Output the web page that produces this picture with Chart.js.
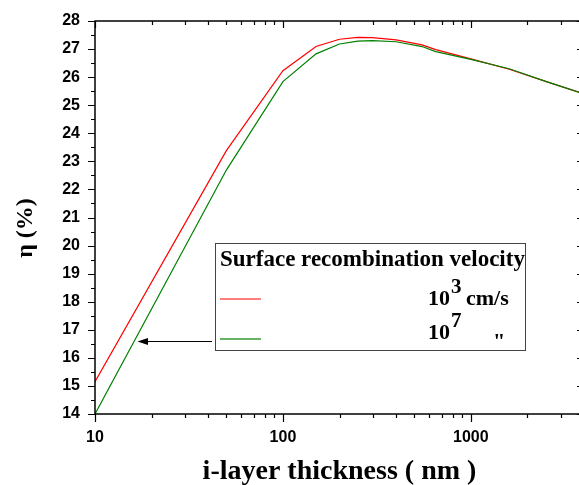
<!DOCTYPE html>
<html>
<head>
<meta charset="utf-8">
<script src="https://cdn.jsdelivr.net/npm/chart.js@4.4.0/dist/chart.umd.min.js"></script>
<style>
html, body { margin: 0; padding: 0; background: #fff; overflow: hidden; }
#wrap { width: 590px; height: 485px; position: relative; }
</style>
</head>
<body>
<div id="wrap"><canvas id="chart"></canvas></div>
<script>
// i-layer thickness (nm)
const thickness = [10, 50, 100, 150, 200, 250, 300, 400, 550, 650, 1000, 1600, 2500, 4000];
// efficiency (%) for surface recombination velocity 1e3 cm/s
const etaS3 = [15.15, 23.38, 26.23, 27.09, 27.35, 27.42, 27.41, 27.33, 27.15, 26.98, 26.65, 26.28, 25.85, 25.40];
// efficiency (%) for 1e7 cm/s
const etaS7 = [14.0, 22.69, 25.84, 26.83, 27.18, 27.28, 27.30, 27.26, 27.09, 26.91, 26.63, 26.30, 25.85, 25.40];
const xTickLabels = [10, 100, 1000];
const yMin = 14, yMax = 28;

const tickFont = { family: '"Liberation Sans", Arial, sans-serif', weight: 'bold', size: 16 };

function points(ys) {
    return thickness.map(function (t, i) { return { x: t, y: ys[i] }; });
}

/* frame, ticks, legend box, arrow, y title */
const extras = {
    id: 'extras',
    afterDraw(chart) {
        const ctx = chart.ctx;
        const a = chart.chartArea;
        const xs = chart.scales.x, ys = chart.scales.y;
        ctx.save();
        ctx.strokeStyle = '#000';
        ctx.lineWidth = 1.5;
        ctx.strokeRect(a.left, a.top, a.right - a.left, a.bottom - a.top);

        ctx.lineWidth = 1.2;
        ctx.beginPath();
        for (let v = yMin; v <= yMax; v += 0.5) {
            const py = Math.round(ys.getPixelForValue(v)) + 0.5;
            const len = (v % 1 === 0) ? 7 : 4;
            ctx.moveTo(a.left - len, py); ctx.lineTo(a.left, py);
            ctx.moveTo(a.right, py); ctx.lineTo(a.right - len, py);
        }
        xTickLabels.forEach(function (d) {
            for (let m = 1; m <= 9; m++) {
                const v = m * d;
                if (v > xs.max) break;
                const px = Math.round(xs.getPixelForValue(v)) + 0.5;
                const major = m === 1;
                ctx.moveTo(px, a.bottom); ctx.lineTo(px, a.bottom + (major ? 8 : 4));
                ctx.moveTo(px, a.top); ctx.lineTo(px, a.top + (major ? 7 : 4));
            }
        });
        ctx.stroke();

        // y axis title
        ctx.fillStyle = '#000';
        ctx.font = 'bold 24px "Liberation Serif"';
        ctx.textAlign = 'center';
        ctx.textBaseline = 'middle';
        ctx.save();
        ctx.translate(26, 228);
        ctx.rotate(-Math.PI / 2);
        ctx.fillText('η (%)', 0, 0);
        ctx.restore();

        // legend box
        ctx.fillStyle = '#fff';
        ctx.fillRect(215.5, 243.5, 310, 107);
        ctx.strokeStyle = '#444';
        ctx.lineWidth = 1;
        ctx.strokeRect(215.5, 243.5, 310, 107);
        ctx.fillStyle = '#000';
        ctx.textAlign = 'left';
        ctx.textBaseline = 'alphabetic';
        ctx.font = 'bold 23px "Liberation Serif"';
        ctx.fillText('Surface recombination velocity', 220, 266);

        ctx.strokeStyle = '#ff0000';
        ctx.lineWidth = 1.2;
        ctx.beginPath(); ctx.moveTo(220, 299); ctx.lineTo(261, 299); ctx.stroke();
        ctx.strokeStyle = 'rgba(0,128,0,0.6)';
        ctx.lineWidth = 2;
        ctx.beginPath(); ctx.moveTo(220, 339); ctx.lineTo(261, 339); ctx.stroke();

        ctx.font = 'bold 22px "Liberation Serif"';
        ctx.fillText('10', 428, 304.5);
        ctx.fillText('cm/s', 466, 304.5);
        ctx.fillText('10', 428, 339);
        ctx.fillText('"', 493, 348);
        ctx.font = 'bold 21px "Liberation Serif"';
        ctx.fillText('3', 451, 293);
        ctx.fillText('7', 451, 327);

        // arrow
        ctx.strokeStyle = '#000';
        ctx.lineWidth = 1.2;
        ctx.beginPath(); ctx.moveTo(212, 341.5); ctx.lineTo(144, 341.5); ctx.stroke();
        ctx.beginPath();
        ctx.moveTo(137.5, 341.5); ctx.lineTo(148, 338); ctx.lineTo(148, 345); ctx.closePath();
        ctx.fillStyle = '#000';
        ctx.fill();
        ctx.restore();
    }
};

new Chart(document.getElementById('chart'), {
    type: 'line',
    data: {
        datasets: [{
            label: '10^3 cm/s',
            data: points(etaS3),
            borderColor: '#ff0000',
            borderWidth: 1.2,
            pointRadius: 0,
            tension: 0,
            order: 1
        }, {
            label: '10^7 cm/s',
            data: points(etaS7),
            borderColor: '#008000',
            borderWidth: 1.2,
            pointRadius: 0,
            tension: 0,
            order: 0
        }]
    },
    options: {
        responsive: true,
        maintainAspectRatio: false,
        animation: false,
        layout: { padding: { top: 21, right: 6, left: 0, bottom: 0 } },
        plugins: {
            legend: { display: false },
            tooltip: { enabled: false }
        },
        scales: {
            x: {
                type: 'logarithmic',
                min: 10,
                max: 4000,
                grid: { display: false },
                border: { display: false },
                afterBuildTicks: function (s) {
                    s.ticks = xTickLabels.map(function (v) { return { value: v }; });
                },
                afterFit: function (s) { s.height = 71; },
                ticks: {
                    autoSkip: false,
                    maxRotation: 0,
                    padding: 6,
                    color: '#000',
                    font: tickFont,
                    callback: function (v) { return String(v); }
                },
                title: {
                    display: true,
                    text: 'i-layer thickness ( nm )',
                    color: '#000',
                    font: { family: '"Liberation Serif", serif', weight: 'bold', size: 28 },
                    padding: { top: 0, bottom: -4 }
                }
            },
            y: {
                min: yMin,
                max: yMax,
                grid: { display: false },
                border: { display: false },
                afterFit: function (s) { s.width = 95; },
                ticks: {
                    stepSize: 1,
                    padding: 7,
                    color: '#000',
                    font: tickFont
                }
            }
        }
    },
    plugins: [extras]
});
</script>
</body>
</html>
